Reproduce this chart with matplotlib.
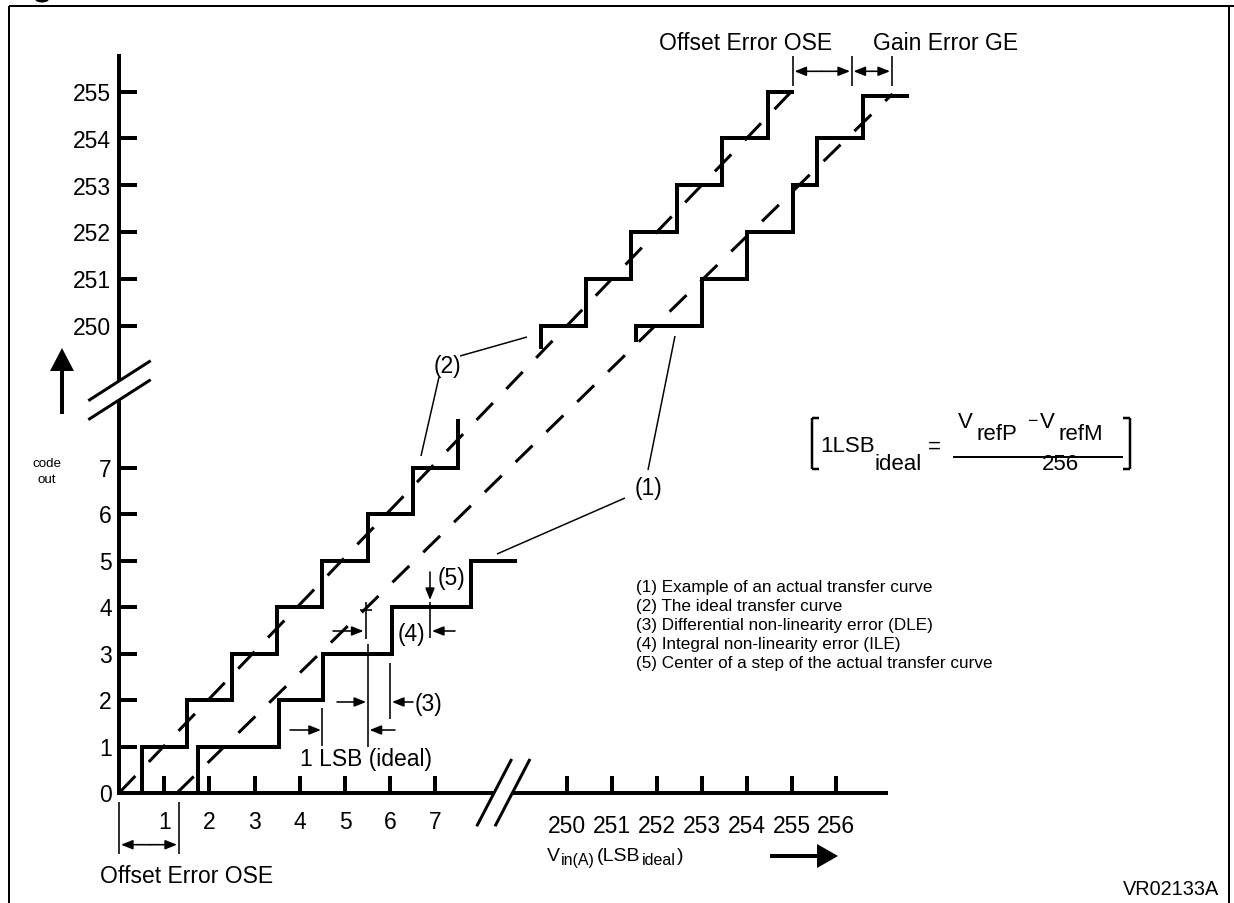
import matplotlib
matplotlib.use("Agg")
import matplotlib.pyplot as plt
from matplotlib.patches import Polygon, Ellipse

plt.rcParams['font.family'] = ['Liberation Sans', 'DejaVu Sans']
plt.rcParams['lines.scale_dashes'] = False

# ---------------- data (diagram units: LSB on x, output code on y) ----------------
low_codes = [0, 1, 2, 3, 4, 5, 6, 7]
low_vin_ticks = [1, 2, 3, 4, 5, 6, 7]
high_codes = [250, 251, 252, 253, 254, 255]
high_vin_ticks = [250, 251, 252, 253, 254, 255, 256]

# ideal transfer curve (2), low part
ideal_low_start = 0
ideal_low_steps = [0.5, 1.5, 2.5, 3.5, 4.5, 5.5, 6.5, 7.5]
ideal_low_levels = [1, 2, 3, 4, 5, 6, 7, 8.05]
# actual transfer curve (1), low part
actual_low_start = 0
actual_low_steps = [1.74, 3.54, 4.51, 6.04, 7.79]
actual_low_levels = [1, 2, 3, 4, 5]
actual_low_end = 8.81
# ideal transfer curve (2), high part
ideal_high_start = 249.5
ideal_high_steps = [249.41, 250.42, 251.42, 252.44, 253.45, 254.48]
ideal_high_levels = [250, 251, 252, 253, 254, 255]
ideal_high_end = 255.06
# actual transfer curve (1), high part
actual_high_start = 249.65
actual_high_steps = [251.53, 253.0, 254.02, 255.04, 255.56, 256.6]
actual_high_levels = [250, 251, 252, 253, 254, 254.9]
actual_high_end = 257.62
# straight (dashed) lines through the step centres
ideal_line_low = (0.0, 0.0)
ideal_line_high = (255.0, 255.0)
actual_line_low = (1.28, 0.0)
actual_line_high = (257.25, 254.95)

legend_lines = [
    "(1) Example of an actual transfer curve",
    "(2) The ideal transfer curve",
    "(3) Differential non-linearity error (DLE)",
    "(4) Integral non-linearity error (ILE)",
    "(5) Center of a step of the actual transfer curve",
]

# ---------------- scales: diagram units -> canvas pixels ----------------
def lx(v):
    return 119 + 45.2 * v

def ly(c):
    return 794 - 46.5 * c

def hx(v):
    return 567 + 44.9 * (v - 250)

def hy(c):
    return 327 - 46.9 * (c - 250)


def stair(start_level, steps, levels, end_x=None):
    xs = [steps[0]]
    ys = [start_level]
    for i, s in enumerate(steps):
        xs.append(s)
        ys.append(levels[i])
        nxt = steps[i + 1] if i + 1 < len(steps) else end_x
        if nxt is not None:
            xs.append(nxt)
            ys.append(levels[i])
    return xs, ys


PX = 0.72  # points per pixel at 100 dpi
fig = plt.figure(figsize=(12.34, 9.04), dpi=100)
ax = fig.add_axes([0, 0, 1, 1])
ax.set_xlim(0, 1234)
ax.set_ylim(904, 0)
ax.axis('off')

K = 'black'
STEP_LW = 4 * PX
AX_LW = 4 * PX
THIN = 1.6 * PX


def line(xs, ys, lw=THIN, **kw):
    ax.plot(xs, ys, color=K, lw=lw, solid_capstyle='butt', solid_joinstyle='miter', **kw)


def arrow(x1, y1, x2, y2, style='-|>'):
    ax.annotate('', xy=(x2, y2), xytext=(x1, y1),
                arrowprops=dict(arrowstyle=style + ',head_length=0.7,head_width=0.28',
                                color=K, lw=THIN, shrinkA=0, shrinkB=0,
                                mutation_scale=10))


def text(x, yc, s, size=16.5, ha='left', **kw):
    # place text so that its cap height is centred on yc
    ax.text(x, yc + 0.497 * size, s, fontsize=size, ha=ha, va='baseline', color=K, **kw)


# frame
line([9, 1234], [7, 7], lw=2 * PX)
line([9, 9], [7, 904], lw=2 * PX)
line([1229, 1229], [7, 904], lw=2 * PX)
ax.add_patch(Ellipse((42, 0), 14, 7, color=K, lw=0))

# axes
line([117, 494], [ly(0), ly(0)], lw=AX_LW)
line([512, 888], [ly(0), ly(0)], lw=AX_LW)
line([lx(0), lx(0)], [ly(0) + 2, 401], lw=AX_LW)
line([lx(0), lx(0)], [382, 55], lw=AX_LW)
# axis breaks
line([88.3, 150.7], [401.7, 361.7], lw=3 * PX)
line([88.3, 150.7], [420.7, 380.7], lw=3 * PX)
line([476.7, 511.7], [827.3, 760], lw=3 * PX)
line([495, 530], [827.3, 760], lw=3 * PX)

# ticks and tick labels
for c in low_codes:
    if c > 0:
        line([lx(0), lx(0) + 18], [ly(c), ly(c)], lw=AX_LW)
    text(112, ly(c), str(c), ha='right')
for c in high_codes:
    line([lx(0), lx(0) + 18], [hy(c), hy(c)], lw=AX_LW)
    text(111, hy(c), str(c), ha='right')
for v in low_vin_ticks:
    line([lx(v), lx(v)], [ly(0), ly(0) - 17], lw=AX_LW)
    text(lx(v), 821, str(v), ha='center')
for v in high_vin_ticks:
    line([hx(v), hx(v)], [ly(0), ly(0) - 17], lw=AX_LW)
    text(hx(v), 825, str(v), ha='center')

# dashed straight lines
dash = (0, (17, 14))
ax.plot([lx(ideal_line_low[0]), hx(ideal_line_high[0])],
        [ly(ideal_line_low[1]), hy(ideal_line_high[1])], color=K, lw=3 * PX, ls=dash,
        dash_capstyle='butt')
ax.plot([lx(actual_line_low[0]), hx(actual_line_high[0])],
        [ly(actual_line_low[1]), hy(actual_line_high[1])], color=K, lw=3 * PX, ls=dash,
        dash_capstyle='butt')

# staircases
xs, ys = stair(ideal_low_start, ideal_low_steps, ideal_low_levels)
line([lx(v) for v in xs], [ly(c) for c in ys], lw=STEP_LW)
xs, ys = stair(actual_low_start, actual_low_steps, actual_low_levels, actual_low_end)
line([lx(v) for v in xs], [ly(c) for c in ys], lw=STEP_LW)
xs, ys = stair(ideal_high_start, ideal_high_steps, ideal_high_levels, ideal_high_end)
line([hx(v) for v in xs], [hy(c) for c in ys], lw=STEP_LW)
xs, ys = stair(actual_high_start, actual_high_steps, actual_high_levels, actual_high_end)
line([hx(v) for v in xs], [hy(c) for c in ys], lw=STEP_LW)

# code out arrow
line([62, 62], [415, 368], lw=4 * PX)
ax.add_patch(Polygon([[50, 372], [74, 372], [62, 349]], closed=True, color=K, lw=0))
text(47, 462, 'code', size=9.6, ha='center')
text(47, 478, 'out', size=9.6, ha='center')

# Vin arrow + label
line([770, 820], [857, 857], lw=4 * PX)
ax.add_patch(Polygon([[817, 845], [817, 869], [838, 857]], closed=True, color=K, lw=0))
ax.text(547, 861, 'V', fontsize=14, va='baseline')
ax.text(561, 865, 'in(A)', fontsize=11.5, va='baseline')
ax.text(597, 861, '(LSB', fontsize=14, va='baseline')
ax.text(642, 865, 'ideal', fontsize=11.5, va='baseline')
ax.text(677, 861, ')', fontsize=14, va='baseline')

# offset error (low)
line([lx(0), lx(0)], [803, 855])
line([179, 179], [803, 855])
arrow(150, 845.7, 121, 845.7)
arrow(150, 845.7, 177, 845.7)
text(100, 874.5, 'Offset Error OSE')

# offset / gain error (high)
for xv in [792.7, 851.7, 891.7]:
    line([xv, xv], [56.7, 86.7])
arrow(822, 72.3, 794.5, 72.3)
arrow(822, 72.3, 850, 72.3)
arrow(872, 72.3, 853.5, 72.3)
arrow(872, 72.3, 890, 72.3)
text(659, 41.7, 'Offset Error OSE')
text(873, 41.7, 'Gain Error GE')

# 1 LSB (ideal)
line([lx(4.5), lx(4.5)], [709, 747])
line([lx(5.5), lx(5.5)], [645, 748])
arrow(290, 731, lx(4.5) - 1.5, 731)
arrow(395, 731, lx(5.5) + 2, 731)
text(366, 758, '1 LSB (ideal)', ha='center')

# (3) DLE
line([390, 390], [664, 720])
arrow(337, 703, lx(5.5) - 1.5, 703)
arrow(413, 703, 392, 703)
text(415, 703, '(3)')

# (4) ILE
line([365.7, 365.7], [603, 640])
line([360, 371.7], [610.7, 610.7])
arrow(333, 632, 363.5, 632)
line([430, 430], [603, 639])
arrow(455, 632, 432, 632)
text(411, 633, '(4)', ha='center')

# (5) centre of step
arrow(430, 573, 430, 601)
text(438, 577, '(5)')

# leaders (1), (2)
line([460, 527], [357, 338], lw=1.5 * PX)
line([439, 421], [378, 457], lw=1.5 * PX)
text(447, 365, '(2)', ha='center')
line([675, 648], [337, 471], lw=1.5 * PX)
line([497, 625], [555, 499], lw=1.5 * PX)
text(648, 487, '(1)', ha='center')

# legend
for i, s in enumerate(legend_lines):
    text(636, 586 + 19 * i, s, size=12.3)

# formula
line([811.7, 811.7], [419.3, 470], lw=2.5 * PX)
line([811.7, 819], [419.3, 419.3], lw=2.5 * PX)
line([811.7, 819], [470, 470], lw=2.5 * PX)
line([1130, 1130], [419.3, 470], lw=2.5 * PX)
line([1123, 1130], [419.3, 419.3], lw=2.5 * PX)
line([1123, 1130], [470, 470], lw=2.5 * PX)
FS = 16
ax.text(820, 452, '1LSB', fontsize=FS, va='baseline')
ax.text(874, 470, 'ideal', fontsize=FS, va='baseline')
ax.text(934, 453, '=', fontsize=FS, va='baseline', ha='center')
line([953, 1123], [458, 458], lw=2 * PX)
ax.text(958, 428, 'V', fontsize=FS, va='baseline')
ax.text(977, 440, 'refP', fontsize=FS, va='baseline')
ax.text(1032, 426, '\u2212', fontsize=FS * 0.8, va='baseline', ha='center')
ax.text(1040, 428, 'V', fontsize=FS, va='baseline')
ax.text(1059, 440, 'refM', fontsize=FS, va='baseline')
ax.text(1060, 470, '256', fontsize=FS, va='baseline', ha='center')

# figure id
ax.text(1219, 895, 'VR02133A', fontsize=14.3, ha='right', va='baseline')

fig.savefig('out.png', dpi=100)
